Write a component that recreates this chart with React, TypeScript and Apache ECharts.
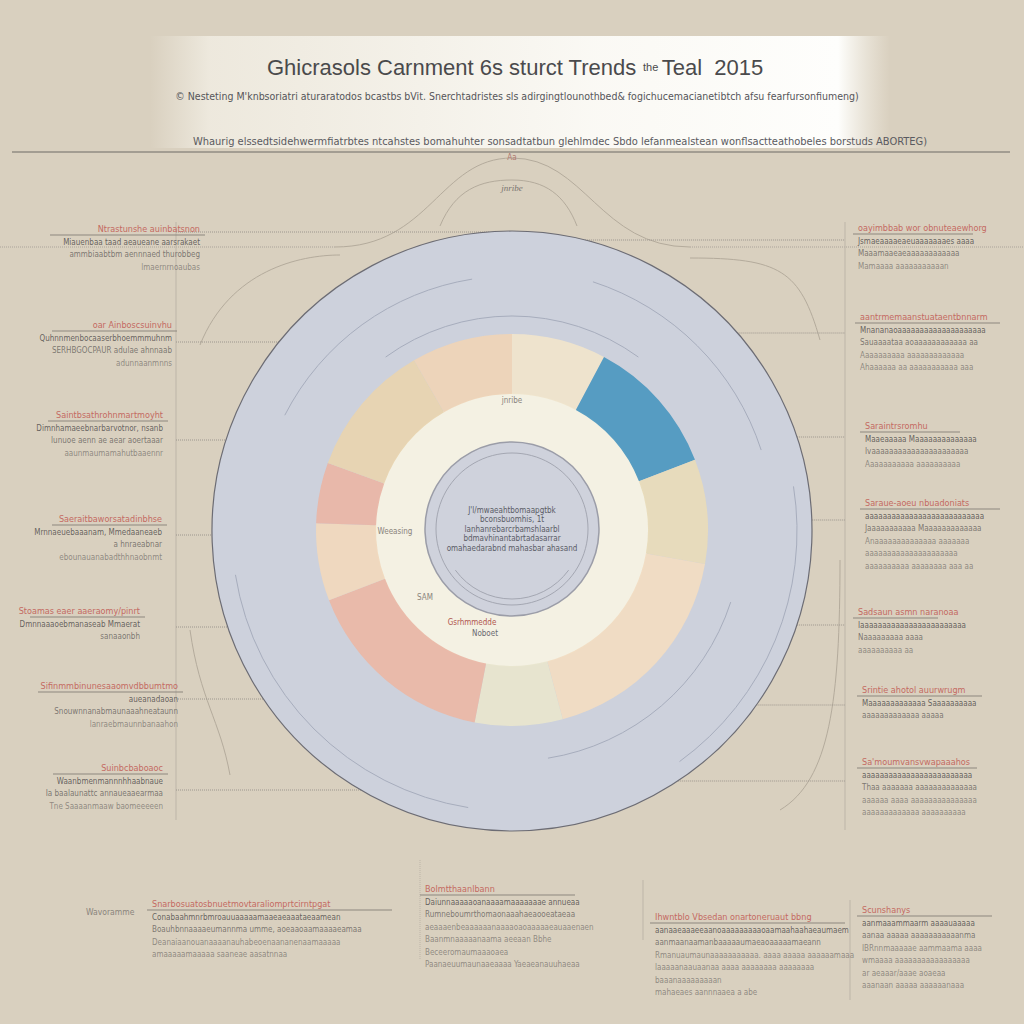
import React, { useEffect, useRef } from "react";
import * as echarts from "echarts";

// ---------- DATA ----------
const titleMain = "Ghicrasols Carnment 6s sturct Trends";
const titleSmall = "the";
const titleTail = "Teal  2015";
const subtitleText =
  "© Nesteting M'knbsoriatri aturaratodos bcastbs bVit. Snerchtadristes sls adirgingtlounothbed& fogichucemacianetibtch afsu fearfursonfiumeng)";
const headlineText =
  "Whaurig elssedtsidehwermfiatrbtes ntcahstes bomahuhter sonsadtatbun glehlmdec Sbdo lefanmealstean wonflsactteathobeles borstuds ABORTEG)";

const ringCategories = [
  "Carnment", "Sturct", "Teal", "Trends", "Noboet", "Gsrhmmedde", "Weeasing", "Sam", "Ntrastun", "Jnribe",
];
const ringValues = [28, 41, 31, 65, 26, 58, 23, 18, 40, 30];

const centerLines = [
  "J'l/mwaeahtbomaapgtbk",
  "bconsbuomhis, 1t",
  "lanhanrebarcrbamshlaarbl",
  "bdmavhinantabrtadasarrar",
  "omahaedarabnd mahasbar ahasand",
];

const annotationHeaders = [
  "Ntrastunshe auinbatsnon",
  "oar Ainboscsuinvhu",
  "Saintbsathrohnmartmoyht",
  "Saeraitbaworsatadinbhse",
  "Stoamas eaer aaeraomy/pinrt",
  "Sifinmmbinunesaaomvdbbumtmo",
  "Suinbcbaboaoc",
  "Snarbosuatosbnuetmovtaraliomprtcirntpgat",
  "Bolmtthaanlbann",
  "Ihwntblo Vbsedan onartoneruaut bbng",
  "Scunshanys",
  "oayimbbab wor obnuteaewhorg",
  "aantrmemaanstuataentbnnarm",
  "Saraintrsromhu",
  "Saraue-aoeu nbuadoniats",
  "Sadsaun asmn naranoaa",
  "Srintie ahotol auurwrugm",
  "Sa'moumvansvwapaaahos",
];

const annotationLines = [
  ["Miauenbaa taad aeaueane aarsrakaet", "ammbiaabtbm aennnaed thurobbeg", "lmaernrnoaubas"],
  ["Quhnnmenbocaaserbhoemmmuhnm", "SERHBGOCPAUR adulae ahnnaab", "adunnaanmnns"],
  ["Dimnhamaeebnarbarvotnor, nsanb", "lunuoe aenn ae aear aoertaaar", "aaunmaumamahutbaaennr"],
  ["Mrnnaeuebaaanam, Mmedaaneaeb", "a hnraeabnar", "ebounauanabadthhnaobnmt"],
  ["Dmnnaaaoebmanaseab Mmaerat", "sanaaonbh"],
  ["aueanadaoan", "Snouwnnanabmaunaaahneataunn", "lanraebmaunnbanaahon"],
  ["Waanbmenmannnhhaabnaue", "Ia baalaunattc annaueaaearmaa", "Tne Saaaanmaaw baomeeeeen"],
  ["Conabaahmnrbmroauuaaaaamaaeaeaaataeaamean", "Boauhbnnaaaaeumannma umme, aoeaaoaamaaaaeamaa", "Deanaiaanouanaaaanauhabeoenaananenaamaaaaa", "amaaaaamaaaaa saaneae aasatnnaa"],
  ["Daiunnaaaaaoanaaaamaaaaaaae annueaa", "Rumneboumrthomaonaaahaeaooeataeaa", "aeaaaenbeaaaaaanaaaaoaoaaaaaeauaaenaen", "Baanmnaaaaanaama aeeaan Bbhe", "Beceeromaumaaaoaea", "Paanaeuumaunaaeaaaa Yaeaeanauuhaeaa"],
  ["aanaaeaaaeeaanoaaaaaaaaaoaamaahaahaeaumaem", "aanmaanaamanbaaaaaumaeaoaaaaamaeann", "Rmanuaumaunaaaaaaaaaaa. aaaa aaaaa aaaaaamaaa", "laaaaanaauaanaa aaaa aaaaaaaa aaaaaaaa", "baaanaaaaaaaaan", "mahaeaes aannnaaea a abe"],
  ["aanmaaammaarm aaaauaaaaa", "aanaa aaaaa aaaaaaaaaaanma", "IBRnnmaaaaae aammaama aaaa", "wmaaaa aaaaaaaaaaaaaaaaa", "ar aeaaar/aaae aoaeaa", "aaanaan aaaaa aaaaaanaaa"],
  ["Jsmaeaaaaeaeuaaaaaaaes aaaa", "Maaamaaeaeaaaaaaaaaaaa", "Mamaaaa aaaaaaaaaaan"],
  ["Mnananaoaaaaaaaaaaaaaaaaaaaa", "Sauaaaataa aoaaaaaaaaaaaa aa", "Aaaaaaaaaa aaaaaaaaaaaaa", "Ahaaaaaa aa aaaaaaaaaaa aaa"],
  ["Maaeaaaaa Maaaaaaaaaaaaaa", "Ivaaaaaaaaaaaaaaaaaaaaaa", "Aaaaaaaaaaa aaaaaaaaaa"],
  ["aaaaaaaaaaaaaaaaaaaaaaaaaaa", "Jaaaaaaaaaaa Maaaaaaaaaaaaa", "Anaaaaaaaaaaaaaa aaaaaaa", "aaaaaaaaaaaaaaaaaaaaa", "aaaaaaaaaa aaaaaaaa aaa aa"],
  ["Iaaaaaaaaaaaaaaaaaaaaaaaa", "Naaaaaaaaa aaaa", "aaaaaaaaaa aa"],
  ["Maaaaaaaaaaaaa Saaaaaaaaaa", "aaaaaaaaaaaaa aaaaa"],
  ["aaaaaaaaaaaaaaaaaaaaaaaaa", "Thaa aaaaaaa aaaaaaaaaaaaaa", "aaaaaa aaaa aaaaaaaaaaaaaaa", "aaaaaaaaaaaaa aaaaaaaaaa"],
];

const innerLabels = ["Weeasing", "Gsrhmmedde", "Noboet", "SAM", "jnribe"];

// ---------- LAYOUT / STYLE ----------
const W = 1024;
const H = 1024;
const CX = 512;
const CY = 531;
const ringColors = [
  "#efe4cb", "#4f99c0", "#e8dbb9", "#f1dcc2", "#e8e5cd",
  "#eab8a7", "#f0d8bd", "#e9b6a6", "#e8d4b0", "#eed4b7",
];
// block anchor: x, y(header), align, rule width
const blockLayout = [
  { x: 200, y: 229, align: "right", rw: 150 },
  { x: 172, y: 325, align: "right", rw: 120 },
  { x: 163, y: 415, align: "right", rw: 115 },
  { x: 162, y: 519, align: "right", rw: 110 },
  { x: 140, y: 611, align: "right", rw: 110 },
  { x: 178, y: 686, align: "right", rw: 140 },
  { x: 163, y: 768, align: "right", rw: 110 },
  { x: 152, y: 904, align: "left", rw: 240 },
  { x: 425, y: 889, align: "left", rw: 150 },
  { x: 655, y: 917, align: "left", rw: 190 },
  { x: 862, y: 910, align: "left", rw: 130 },
  { x: 858, y: 228, align: "left", rw: 115 },
  { x: 860, y: 317, align: "left", rw: 140 },
  { x: 865, y: 426, align: "left", rw: 95 },
  { x: 865, y: 503, align: "left", rw: 135 },
  { x: 858, y: 612, align: "left", rw: 80 },
  { x: 862, y: 690, align: "left", rw: 120 },
  { x: 862, y: 762, align: "left", rw: 115 },
];

const FONT = "'Liberation Sans Narrow', 'DejaVu Sans Condensed', 'Liberation Sans', sans-serif";

function buildGraphics() {
  const g: any[] = [];
  // top banner
  g.push({
    type: "rect",
    shape: { x: 150, y: 36, width: 740, height: 112 },
    style: {
      fill: new echarts.graphic.LinearGradient(0, 0, 1, 0, [
        { offset: 0, color: "rgba(246,243,234,0)" },
        { offset: 0.08, color: "rgba(246,243,234,0.7)" },
        { offset: 0.6, color: "rgba(252,251,247,0.95)" },
        { offset: 0.93, color: "rgba(254,254,252,1)" },
        { offset: 1, color: "rgba(246,243,234,0)" },
      ]),
    },
    z: 0,
  });
  // title
  g.push({
    type: "text",
    x: 515,
    y: 67,
    style: {
      text: `{a|${titleMain}}  {b|${titleSmall}} {a|${titleTail}}`,
      textAlign: "center",
      textVerticalAlign: "middle",
      rich: {
        a: { fontSize: 22, fontFamily: "'Liberation Sans', Arial, sans-serif", fill: "#4a4a4c", fontWeight: 500 },
        b: { fontSize: 11, fontFamily: "'Liberation Sans', Arial, sans-serif", fill: "#4a4a4c" },
      },
    },
    z: 5,
  });
  g.push({
    type: "text",
    x: 517,
    y: 96,
    style: {
      text: subtitleText,
      textAlign: "center",
      textVerticalAlign: "middle",
      fontSize: 10.5,
      fontFamily: FONT,
      fill: "#555559",
    },
    z: 5,
  });
  g.push({
    type: "text",
    x: 560,
    y: 141,
    style: {
      text: headlineText,
      textAlign: "center",
      textVerticalAlign: "middle",
      fontSize: 11,
      fontFamily: FONT,
      fill: "#5a5a60",
    },
    z: 5,
  });
  g.push({
    type: "line",
    shape: { x1: 12, y1: 152, x2: 1010, y2: 152 },
    style: { stroke: "#6e6a66", lineWidth: 1.2 },
    z: 5,
  });
  // top bell curves + horizontal dotted lines
  const curveStyle = { stroke: "#b4ab9c", lineWidth: 1, fill: null };
  g.push({ type: "line", shape: { x1: 0, y1: 247, x2: 335, y2: 247 }, style: { stroke: "#aaa39a", lineWidth: 1, lineDash: [1, 1] }, z: 1 });
  g.push({ type: "line", shape: { x1: 690, y1: 247, x2: 1024, y2: 247 }, style: { stroke: "#aaa39a", lineWidth: 1, lineDash: [1, 1] }, z: 1 });
  g.push({ type: "bezierCurve", shape: { x1: 335, y1: 247, cpx1: 430, cpy1: 247, cpx2: 440, cpy2: 158, x2: 512, y2: 158 }, style: curveStyle, z: 1 });
  g.push({ type: "bezierCurve", shape: { x1: 512, y1: 158, cpx1: 585, cpy1: 158, cpx2: 600, cpy2: 247, x2: 690, y2: 247 }, style: curveStyle, z: 1 });
  g.push({ type: "bezierCurve", shape: { x1: 440, y1: 226, cpx1: 455, cpy1: 190, cpx2: 480, cpy2: 180, x2: 512, y2: 180 }, style: curveStyle, z: 1 });
  g.push({ type: "bezierCurve", shape: { x1: 512, y1: 180, cpx1: 545, cpy1: 180, cpx2: 565, cpy2: 195, x2: 577, y2: 226 }, style: curveStyle, z: 1 });
  g.push({ type: "bezierCurve", shape: { x1: 200, y1: 345, cpx1: 230, cpy1: 270, cpx2: 300, cpy2: 255, x2: 340, y2: 255 }, style: curveStyle, z: 1 });
  g.push({ type: "bezierCurve", shape: { x1: 690, y1: 258, cpx1: 780, cpy1: 258, cpx2: 800, cpy2: 270, x2: 820, y2: 340 }, style: curveStyle, z: 1 });
  g.push({ type: "bezierCurve", shape: { x1: 780, y1: 810, cpx1: 830, cpy1: 780, cpx2: 840, cpy2: 700, x2: 840, y2: 560 }, style: curveStyle, z: 1 });
  g.push({ type: "bezierCurve", shape: { x1: 230, y1: 775, cpx1: 220, cpy1: 720, cpx2: 200, cpy2: 700, x2: 190, y2: 630 }, style: curveStyle, z: 1 });
  g.push({ type: "text", x: 512, y: 188, style: { text: "jnribe", textAlign: "center", textVerticalAlign: "middle", fontSize: 9, fontStyle: "italic", fontFamily: "serif", fill: "#7a7470" }, z: 5 });
  g.push({ type: "text", x: 512, y: 157, style: { text: "Aa", textAlign: "center", textVerticalAlign: "middle", fontSize: 8, fontFamily: FONT, fill: "#b07a70" }, z: 5 });

  // side vertical guides
  const guide = { stroke: "#bdb5a8", lineWidth: 1 };
  g.push({ type: "line", shape: { x1: 176, y1: 222, x2: 176, y2: 820 }, style: guide, z: 1 });
  g.push({ type: "line", shape: { x1: 845, y1: 222, x2: 845, y2: 830 }, style: guide, z: 1 });
  g.push({ type: "line", shape: { x1: 420, y1: 860, x2: 420, y2: 960 }, style: { ...guide, lineDash: [1, 1] }, z: 1 });
  g.push({ type: "line", shape: { x1: 643, y1: 880, x2: 643, y2: 940 }, style: guide, z: 1 });
  g.push({ type: "line", shape: { x1: 850, y1: 900, x2: 850, y2: 1000 }, style: guide, z: 1 });
  // horizontal connectors from labels to disk
  const conn = { stroke: "#9c968e", lineWidth: 1, lineDash: [1, 1] };
  const leftConn = [232, 342, 440, 535, 627, 699, 790];
  const rightConn = [240, 333, 437, 520, 625, 705, 781];
  leftConn.forEach((yy) => {
    const dx = Math.sqrt(Math.max(0, 300 * 300 - (yy - CY) * (yy - CY)));
    g.push({ type: "line", shape: { x1: 176, y1: yy, x2: CX - dx + 2, y2: yy }, style: conn, z: 1 });
  });
  rightConn.forEach((yy) => {
    const dx = Math.sqrt(Math.max(0, 300 * 300 - (yy - CY) * (yy - CY)));
    g.push({ type: "line", shape: { x1: CX + dx - 2, y1: yy, x2: 845, y2: yy }, style: conn, z: 1 });
  });

  // arcs inside disk
  const arcStyle = { stroke: "#a7adbd", lineWidth: 1, fill: null };
  g.push({ type: "arc", shape: { cx: CX, cy: CY, r: 280, startAngle: Math.PI * 0.55, endAngle: Math.PI * 0.95 }, style: arcStyle, z: 3 });
  g.push({ type: "arc", shape: { cx: CX, cy: CY, r: 255, startAngle: Math.PI * 1.15, endAngle: Math.PI * 1.45 }, style: arcStyle, z: 3 });
  g.push({ type: "arc", shape: { cx: CX, cy: CY, r: 262, startAngle: Math.PI * 1.6, endAngle: Math.PI * 1.9 }, style: arcStyle, z: 3 });
  g.push({ type: "arc", shape: { cx: CX, cy: CY, r: 230, startAngle: Math.PI * 0.1, endAngle: Math.PI * 0.45 }, style: arcStyle, z: 3 });
  g.push({ type: "arc", shape: { cx: CX, cy: CY, r: 215, startAngle: Math.PI * 1.3, endAngle: Math.PI * 1.7 }, style: arcStyle, z: 3 });
  g.push({ type: "arc", shape: { cx: CX, cy: CY, r: 285, startAngle: Math.PI * 1.95, endAngle: Math.PI * 2.3 }, style: arcStyle, z: 3 });
  // inner circle rings
  g.push({ type: "circle", shape: { cx: CX, cy: 529, r: 76 }, style: { stroke: "#a4a7b2", lineWidth: 1, fill: null }, z: 6 });
  g.push({ type: "arc", shape: { cx: CX, cy: 529, r: 70, startAngle: Math.PI * 0.2, endAngle: Math.PI * 0.8 }, style: { stroke: "#a4a7b2", lineWidth: 1, fill: null }, z: 6 });

  // centre text
  centerLines.forEach((t, i) => {
    g.push({
      type: "text",
      x: 512,
      y: 510 + i * 9.5,
      style: { text: t, textAlign: "center", textVerticalAlign: "middle", fontSize: 8, fontFamily: FONT, fill: "#5a5c66" },
      z: 7,
    });
  });
  // labels inside ring
  const innerPos = [
    { x: 395, y: 531, c: "#8a847c" },
    { x: 472, y: 622, c: "#b0564e" },
    { x: 485, y: 633, c: "#6a6a70" },
    { x: 425, y: 597, c: "#8a847c" },
    { x: 512, y: 400, c: "#8a847c" },
  ];
  innerLabels.forEach((t, i) => {
    const p = innerPos[i];
    g.push({ type: "text", x: p.x, y: p.y, style: { text: t, textAlign: "center", textVerticalAlign: "middle", fontSize: 8, fontFamily: FONT, fill: p.c }, z: 7 });
  });

  // annotation blocks
  annotationHeaders.forEach((h, i) => {
    const L = blockLayout[i];
    const align = L.align;
    g.push({
      type: "text",
      x: L.x,
      y: L.y,
      style: { text: h, textAlign: align, textVerticalAlign: "middle", fontSize: 9, fontFamily: FONT, fill: "#c46a62" },
      z: 5,
    });
    const rx1 = align === "right" ? L.x - L.rw : L.x - 5;
    const rx2 = align === "right" ? L.x + 5 : L.x + L.rw;
    g.push({ type: "line", shape: { x1: rx1, y1: L.y + 6, x2: rx2, y2: L.y + 6 }, style: { stroke: "#8d877f", lineWidth: 1 }, z: 5 });
    annotationLines[i].forEach((t, j) => {
      g.push({
        type: "text",
        x: L.x,
        y: L.y + 13 + j * 12.5,
        style: {
          text: t,
          textAlign: align,
          textVerticalAlign: "middle",
          fontSize: 8,
          fontFamily: FONT,
          fill: j === 0 ? "#5e5a58" : "#76716c",
          opacity: j > 1 ? 0.75 : 0.95,
        },
        z: 5,
      });
    });
  });
  g.push({ type: "text", x: 86, y: 912, style: { text: "Wavoramme", textAlign: "left", textVerticalAlign: "middle", fontSize: 8.5, fontFamily: FONT, fill: "#8a847c" }, z: 5 });
  return g;
}

export default function App() {
  const ref = useRef<HTMLDivElement>(null);
  useEffect(() => {
    if (!ref.current) return;
    const chart = echarts.init(ref.current, undefined, { renderer: "svg", width: W, height: H });
    const option: any = {
      animation: false,
      backgroundColor: "#d9d0bf",
      series: [
        {
          type: "pie",
          silent: true,
          center: [CX, CY],
          radius: [0, 300],
          label: { show: false },
          labelLine: { show: false },
          itemStyle: { color: "#cdd1dc", borderColor: "#6c6c74", borderWidth: 1.2 },
          data: [{ value: 1, name: "disk" }],
          z: 2,
        },
        {
          type: "pie",
          silent: true,
          center: [CX, 530],
          radius: [0, 137],
          label: { show: false },
          labelLine: { show: false },
          itemStyle: { color: "#f4f1e3" },
          data: [{ value: 1, name: "inner" }],
          z: 3,
        },
        {
          type: "pie",
          silent: true,
          center: [CX, 530],
          radius: [136, 196],
          startAngle: 90,
          clockwise: true,
          label: { show: false },
          labelLine: { show: false },
          data: ringCategories.map((n, i) => ({
            name: n,
            value: ringValues[i],
            itemStyle: { color: ringColors[i], opacity: 0.95 },
          })),
          z: 4,
        },
        {
          type: "pie",
          silent: true,
          center: [CX, 529],
          radius: [0, 87],
          label: { show: false },
          labelLine: { show: false },
          itemStyle: { color: "#cfd2dc", borderColor: "#9b9da8", borderWidth: 1.5 },
          data: [{ value: 1, name: "core" }],
          z: 5,
        },
      ],
      graphic: { elements: buildGraphics() },
    };
    chart.setOption(option);
    return () => chart.dispose();
  }, []);
  return <div ref={ref} style={{ position: "fixed", left: 0, top: 0, width: W, height: H }} />;
}
